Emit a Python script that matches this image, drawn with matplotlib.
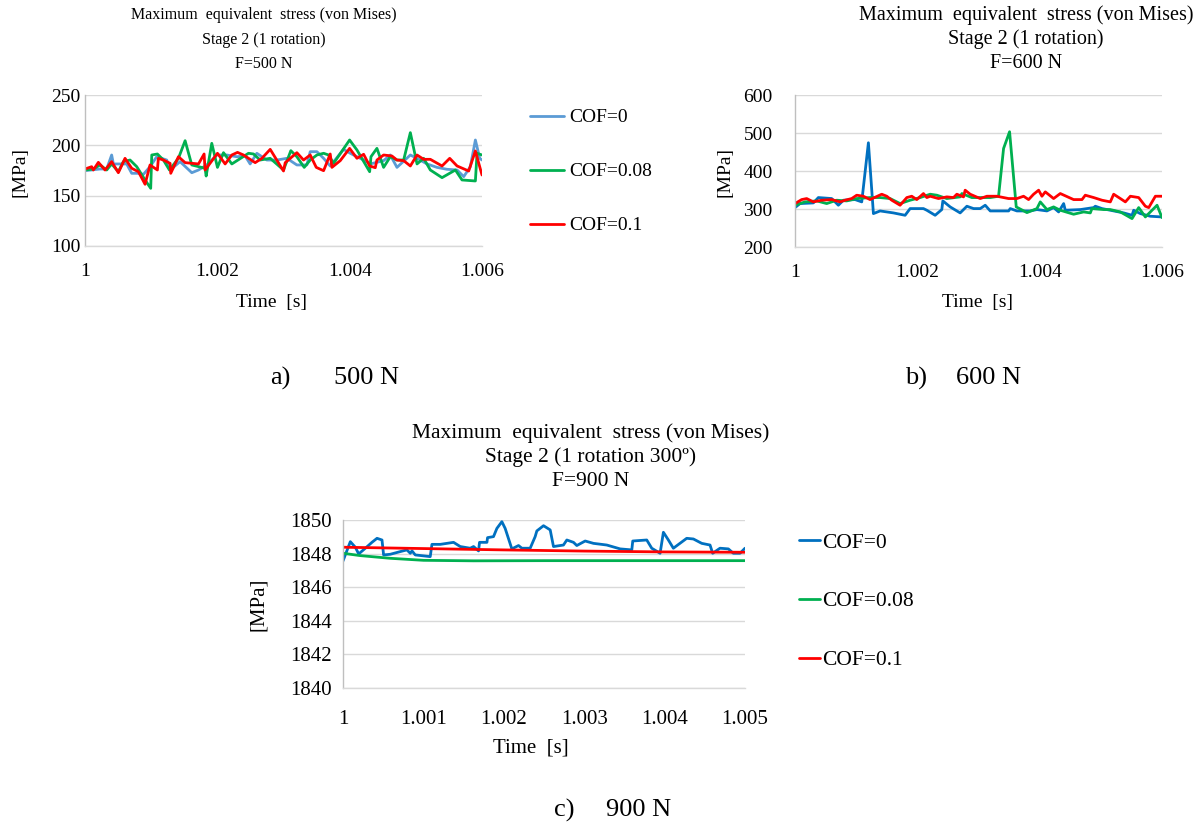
import matplotlib
matplotlib.use("Agg")
import matplotlib.pyplot as plt
from matplotlib.ticker import FuncFormatter

plt.rcParams['font.family'] = ['Liberation Serif', 'DejaVu Serif']

# ---------------- Data (time offsets in ms after t = 1 s, stress in MPa) ----------------
# Panel a: F = 500 N
a_t0 = [0, 0.227, 0.328, 0.403, 0.429, 0.630, 0.706, 0.807, 0.883, 0.983, 1.084, 1.235, 1.286,
        1.437, 1.614, 1.715, 1.841, 1.992, 2.143, 2.294, 2.421, 2.496, 2.597, 2.748, 2.900, 3.051,
        3.202, 3.353, 3.404, 3.505, 3.606, 3.706, 3.908, 4.009, 4.211, 4.312, 4.513, 4.614, 4.715,
        4.917, 5.018, 5.169, 5.320, 5.471, 5.623, 5.724, 5.824, 5.900, 5.966, 6.0]
a_s0 = [174.8, 176.5, 176.5, 190.4, 181.5, 181.5, 172.2, 172.2, 171.2, 178.8, 188.7, 185.4, 175.5,
        183.8, 172.8, 175.5, 180.5, 190.4, 190.4, 188.7, 189.4, 181.5, 192.1, 185.4, 185.4, 187.1,
        180.5, 180.5, 193.7, 193.7, 187.1, 179.5, 196.0, 192.1, 185.4, 181.5, 184.8, 190.4, 178.1,
        190.4, 187.1, 181.5, 178.1, 176.2, 175.5, 168.9, 178.8, 205.3, 187.1, 185.4]

a_t08 = [0, 0.126, 0.227, 0.328, 0.403, 0.504, 0.580, 0.681, 0.782, 0.908, 0.993, 1.009, 1.094,
         1.185, 1.276, 1.412, 1.513, 1.614, 1.815, 1.831, 1.916, 2.002, 2.093, 2.219, 2.471, 2.547,
         2.647, 2.799, 3.000, 3.111, 3.202, 3.313, 3.404, 3.505, 3.606, 3.681, 3.757, 3.999, 4.110,
         4.302, 4.322, 4.412, 4.513, 4.614, 4.715, 4.816, 4.917, 5.018, 5.118, 5.219, 5.396, 5.598,
         5.698, 5.900, 5.925, 6.0]
a_s08 = [175.5, 176.5, 180.5, 175.5, 181.5, 173.8, 183.8, 185.4, 178.8, 165.6, 157.3, 190.4, 191.4,
         185.4, 175.5, 187.1, 204.6, 180.5, 177.2, 169.5, 202.0, 178.1, 192.7, 181.5, 192.1, 191.4,
         185.4, 187.1, 175.5, 194.7, 188.7, 178.1, 185.4, 190.4, 192.1, 190.4, 182.1, 205.3, 195.4,
         173.8, 188.7, 197.0, 178.1, 188.7, 185.4, 185.4, 212.6, 181.5, 187.1, 175.5, 167.9, 175.5,
         165.6, 164.6, 192.1, 190.4]

a_t1 = [0, 0.101, 0.126, 0.202, 0.303, 0.403, 0.504, 0.605, 0.706, 0.807, 0.908, 0.983, 1.094,
        1.109, 1.185, 1.286, 1.296, 1.412, 1.513, 1.715, 1.800, 1.815, 2.002, 2.118, 2.219, 2.305,
        2.395, 2.572, 2.673, 2.799, 3.000, 3.026, 3.202, 3.303, 3.404, 3.495, 3.606, 3.706, 3.732,
        3.858, 3.999, 4.110, 4.211, 4.302, 4.387, 4.412, 4.513, 4.639, 4.715, 4.816, 4.917, 5.018,
        5.118, 5.219, 5.396, 5.512, 5.623, 5.799, 5.900, 6.0]
a_s1 = [176.5, 178.8, 175.5, 183.1, 175.5, 183.8, 172.8, 187.1, 177.2, 173.8, 161.3, 180.5, 175.5,
        187.1, 185.4, 182.1, 172.2, 188.7, 182.8, 181.5, 191.4, 175.5, 192.1, 181.5, 190.4, 193.0,
        190.4, 182.8, 187.1, 196.0, 174.5, 182.8, 192.7, 185.4, 190.4, 178.1, 174.8, 191.4, 178.1,
        184.8, 197.0, 187.1, 191.1, 179.5, 177.8, 185.4, 190.4, 189.4, 185.4, 184.8, 179.5, 190.4,
        186.1, 186.1, 179.5, 187.1, 179.5, 174.5, 194.4, 170.5]

# Panel b: F = 600 N
b_t0 = [0, 0.082, 0.300, 0.382, 0.600, 0.709, 0.791, 0.982, 1.091, 1.200, 1.282, 1.391, 1.609,
        1.800, 1.882, 2.100, 2.155, 2.291, 2.400, 2.417, 2.537, 2.700, 2.810, 2.919, 3.028, 3.110,
        3.192, 3.492, 3.519, 3.628, 3.846, 3.955, 4.119, 4.228, 4.310, 4.392, 4.419, 4.664, 4.883,
        4.910, 5.019, 5.374, 5.510, 5.537, 5.646, 5.810, 6.0]
b_s0 = [303.7, 314.3, 316.0, 330.1, 327.5, 309.9, 323.1, 324.8, 318.7, 474.3, 287.9, 294.9, 289.7,
        283.5, 301.1, 301.1, 296.7, 283.5, 298.5, 321.3, 305.5, 289.7, 307.3, 301.1, 301.1, 309.9,
        294.9, 294.9, 301.1, 294.9, 294.9, 298.5, 294.9, 303.7, 292.3, 314.3, 296.7, 298.5, 303.7,
        307.3, 301.1, 289.7, 283.5, 296.7, 287.9, 280.9, 279.1]

b_t08 = [0, 0.164, 0.355, 0.518, 0.682, 0.846, 1.009, 1.227, 1.391, 1.555, 1.718, 1.882, 2.046,
         2.210, 2.319, 2.482, 2.700, 2.728, 2.891, 3.192, 3.328, 3.410, 3.508, 3.617, 3.792, 3.955,
         4.010, 4.119, 4.228, 4.337, 4.555, 4.719, 4.828, 4.855, 5.046, 5.155, 5.319, 5.510, 5.619,
         5.728, 5.919, 6.0]
b_s08 = [309.9, 318.7, 321.3, 314.3, 323.1, 321.3, 327.5, 330.1, 330.1, 327.5, 314.3, 323.1, 330.1,
         338.9, 336.3, 327.5, 331.9, 340.7, 330.1, 330.1, 333.6, 459.3, 503.3, 305.5, 290.5, 301.1,
         318.7, 298.5, 305.5, 296.7, 286.2, 292.3, 289.7, 301.1, 298.5, 298.5, 292.3, 274.7, 303.7,
         279.1, 309.9, 277.4]

b_t1 = [0, 0.109, 0.191, 0.300, 0.436, 0.600, 0.736, 0.818, 0.927, 1.009, 1.118, 1.227, 1.418,
        1.500, 1.582, 1.718, 1.828, 1.909, 1.991, 2.100, 2.155, 2.210, 2.346, 2.482, 2.591, 2.646,
        2.755, 2.782, 2.864, 3.028, 3.137, 3.301, 3.492, 3.628, 3.737, 3.819, 3.901, 3.983, 4.037,
        4.092, 4.228, 4.337, 4.555, 4.692, 4.746, 4.883, 5.019, 5.155, 5.210, 5.319, 5.401, 5.483,
        5.619, 5.728, 5.783, 5.892, 6.0]
b_s1 = [314.3, 324.8, 327.5, 318.7, 323.1, 324.8, 318.7, 323.1, 327.5, 336.3, 333.6, 324.8, 338.9,
        333.6, 323.1, 309.9, 330.1, 333.6, 324.8, 340.7, 330.1, 333.6, 327.5, 331.9, 330.1, 338.9,
        331.9, 349.5, 338.9, 327.5, 333.6, 333.6, 327.5, 327.5, 333.6, 324.8, 338.9, 349.5, 333.6,
        345.1, 327.5, 340.7, 324.8, 324.8, 336.3, 330.1, 323.1, 318.7, 338.9, 327.5, 318.7, 333.6,
        330.1, 307.3, 303.7, 333.6, 333.6]

# Panel c: F = 900 N
c_t0 = [0, 0.091, 0.153, 0.195, 0.278, 0.360, 0.423, 0.485, 0.505, 0.588, 0.713, 0.795, 0.837,
        0.858, 0.899, 1.085, 1.106, 1.210, 1.375, 1.458, 1.582, 1.624, 1.686, 1.698, 1.790, 1.798,
        1.872, 1.914, 1.976, 2.017, 2.100, 2.183, 2.225, 2.328, 2.390, 2.411, 2.494, 2.577, 2.618,
        2.742, 2.784, 2.867, 2.908, 3.012, 3.115, 3.281, 3.447, 3.592, 3.604, 3.778, 3.840, 3.944,
        3.985, 4.047, 4.109, 4.275, 4.358, 4.462, 4.565, 4.598, 4.689, 4.793, 4.855, 4.938, 5.0]
c_s0 = [1847.56, 1848.71, 1848.38, 1847.98, 1848.32, 1848.67, 1848.91, 1848.81, 1847.92, 1847.96,
        1848.12, 1848.22, 1848.02, 1848.16, 1847.92, 1847.82, 1848.55, 1848.55, 1848.67, 1848.42,
        1848.32, 1848.42, 1848.16, 1848.67, 1848.67, 1848.95, 1849.01, 1849.50, 1849.90, 1849.50,
        1848.28, 1848.48, 1848.32, 1848.32, 1849.01, 1849.35, 1849.66, 1849.41, 1848.42, 1848.51,
        1848.81, 1848.67, 1848.48, 1848.75, 1848.61, 1848.51, 1848.28, 1848.22, 1848.75, 1848.81,
        1848.32, 1848.02, 1849.27, 1848.81, 1848.32, 1848.91, 1848.87, 1848.61, 1848.51, 1848.02,
        1848.32, 1848.28, 1848.02, 1848.02, 1848.32]

c_t08 = [0, 0.215, 0.588, 1.002, 1.624, 2.5, 3.5, 5.0]
c_s08 = [1848.02, 1847.88, 1847.72, 1847.60, 1847.57, 1847.58, 1847.58, 1847.58]

c_t1 = [0, 1.0, 2.0, 3.0, 4.0, 5.0]
c_s1 = [1848.38, 1848.30, 1848.22, 1848.15, 1848.10, 1848.08]

labels = ["COF=0", "COF=0.08", "COF=0.1"]
light_blue = "#5B9BD5"
dark_blue = "#0070C0"
green = "#00B050"
red = "#FF0000"

W, H = 1204, 827
fig = plt.figure(figsize=(W / 100, H / 100), dpi=100)


def rect(l, r, t, b):
    return [l / W, 1 - b / H, (r - l) / W, (b - t) / H]


def to_time(ms):
    return [1 + v * 1e-3 for v in ms]


def fmt(v, pos):
    return f"{v:.3f}".rstrip('0').rstrip('.')


def style(ax, yticks, xticks, fs, xpad, ypad):
    for s in ["top", "right"]:
        ax.spines[s].set_visible(False)
    ax.spines["left"].set_color("#BFBFBF")
    ax.spines["bottom"].set_color("#D9D9D9")
    ax.spines["left"].set_linewidth(1.0)
    ax.spines["bottom"].set_linewidth(1.0)
    ax.set_yticks(yticks)
    ax.set_xticks(xticks)
    ax.xaxis.set_major_formatter(FuncFormatter(fmt))
    ax.grid(axis="y", color="#D9D9D9", linewidth=1.0)
    ax.set_axisbelow(True)
    ax.tick_params(length=0, labelsize=fs)
    ax.tick_params(axis="x", pad=xpad)
    ax.tick_params(axis="y", pad=ypad)


lw = 2.0
kw = dict(lw=lw, solid_joinstyle="round", solid_capstyle="round")
# ---------------- Panel a ----------------
axa = fig.add_axes(rect(85, 482, 95, 246))
la0, = axa.plot(to_time(a_t0), a_s0, color=light_blue, **kw)
la1, = axa.plot(to_time(a_t08), a_s08, color=green, **kw)
la2, = axa.plot(to_time(a_t1), a_s1, color=red, **kw)
axa.set_xlim(1, 1.006)
axa.set_ylim(100, 250)
style(axa, [100, 150, 200, 250], [1, 1.002, 1.004, 1.006], 14, 12, 3)

# ---------------- Panel b ----------------
axb = fig.add_axes(rect(795, 1162, 95, 247))
axb.plot(to_time(b_t0), b_s0, color=dark_blue, **kw)
axb.plot(to_time(b_t08), b_s08, color=green, **kw)
axb.plot(to_time(b_t1), b_s1, color=red, **kw)
axb.set_xlim(1, 1.006)
axb.set_ylim(200, 600)
style(axb, [200, 300, 400, 500, 600], [1, 1.002, 1.004, 1.006], 14, 12, 16)

# ---------------- Panel c ----------------
axc = fig.add_axes(rect(343, 745, 520, 688))
lc0, = axc.plot(to_time(c_t0), c_s0, color=dark_blue, **kw)
lc1, = axc.plot(to_time(c_t08), c_s08, color=green, **kw)
lc2, = axc.plot(to_time(c_t1), c_s1, color=red, **kw)
axc.set_xlim(1, 1.005)
axc.set_ylim(1840, 1850)
style(axc, [1840, 1842, 1844, 1846, 1848, 1850],
      [1, 1.001, 1.002, 1.003, 1.004, 1.005], 15, 16, 8)


def ftext(x, y, s, size, **kw):
    fig.text(x / W, 1 - y / H, s, fontsize=size, ha=kw.pop("ha", "center"),
             va=kw.pop("va", "center"), **kw)


# Titles
for i, s in enumerate(["Maximum  equivalent  stress (von Mises)", "Stage 2 (1 rotation)", "F=500 N"]):
    ftext(264, 15 + 24.5 * i, s, 11.5)
for i, s in enumerate(["Maximum  equivalent  stress (von Mises)", "Stage 2 (1 rotation)", "F=600 N"]):
    ftext(1026, 15 + 24 * i, s, 14.5)
for i, s in enumerate(["Maximum  equivalent  stress (von Mises)", "Stage 2 (1 rotation 300º)", "F=900 N"]):
    ftext(591, 433 + 24.5 * i, s, 15.5)

# Axis labels
ftext(20, 172, "[MPa]", 14, rotation=90)
ftext(272, 303, "Time  [s]", 14)
ftext(725, 172, "[MPa]", 14, rotation=90)
ftext(978, 303, "Time  [s]", 14)
ftext(258, 604, "[MPa]", 15, rotation=90)
ftext(531, 748, "Time  [s]", 15)

# Legends
fig.legend([la0, la1, la2], labels, loc="upper left",
           bbox_to_anchor=(522 / W, 1 - 101 / H), frameon=False, fontsize=14,
           handlelength=1.75, handletextpad=0.3, labelspacing=1.87, borderaxespad=0)
fig.legend([lc0, lc1, lc2], labels, loc="upper left",
           bbox_to_anchor=(790 / W, 1 - 524 / H), frameon=False, fontsize=15.5,
           handlelength=1.0, handletextpad=0.1, labelspacing=1.8, borderaxespad=0)

# Captions
ftext(280, 378, "a)", 19)
ftext(367, 378, "500 N", 19)
ftext(916, 378, "b)", 19)
ftext(989, 378, "600 N", 19)
ftext(564, 810, "c)", 19)
ftext(639, 810, "900 N", 19)

fig.savefig("out.png", dpi=100)
